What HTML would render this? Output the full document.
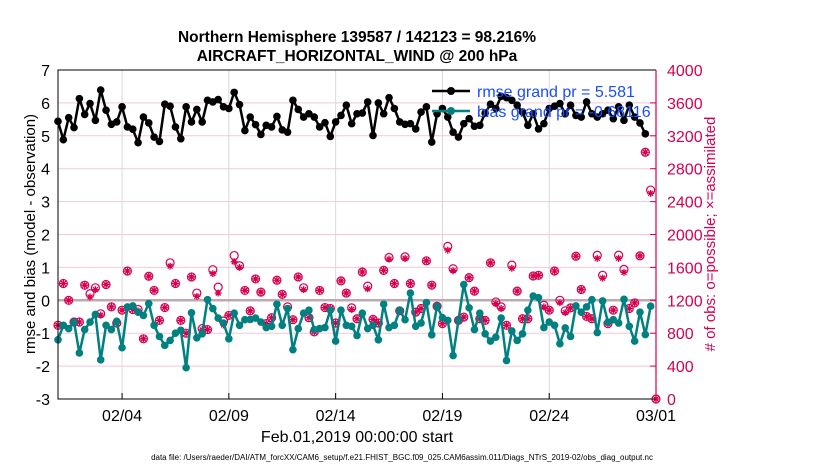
<!DOCTYPE html>
<html><head><meta charset="utf-8"><style>
body{margin:0;background:#fff;}
svg{font-family:"Liberation Sans",sans-serif;}
</style></head><body>
<svg id="chart" width="830" height="470" viewBox="0 0 830 470" xmlns="http://www.w3.org/2000/svg">
<rect width="830" height="470" fill="#fff"/>
<text x="357" y="42" text-anchor="middle" font-size="15.5" font-weight="bold">Northern Hemisphere 139587 / 142123 = 98.216%</text>
<text x="357" y="61" text-anchor="middle" font-size="15.5" font-weight="bold">AIRCRAFT_HORIZONTAL_WIND @ 200 hPa</text>
<g id="grid"></g>
<g id="marks"></g>
<g id="axes"></g>
<text x="357" y="442" text-anchor="middle" font-size="16">Feb.01,2019 00:00:00 start</text>
<text transform="translate(35,234) rotate(-90)" text-anchor="middle" font-size="15">rmse and bias (model - observation)</text>
<text transform="translate(715,234) rotate(-90)" text-anchor="middle" font-size="15" fill="#d6004f"># of obs: o=possible; ×=assimilated</text>
<text x="402" y="460" text-anchor="middle" font-size="8">data file: /Users/raeder/DAI/ATM_forcXX/CAM6_setup/f.e21.FHIST_BGC.f09_025.CAM6assim.011/Diags_NTrS_2019-02/obs_diag_output.nc</text>
<g>
<line x1="432" y1="91" x2="470" y2="91" stroke="#000" stroke-width="2.5"/>
<circle cx="451" cy="91" r="4" fill="#000"/>
<text x="477" y="97" font-size="16" fill="#1a4dff">rmse grand pr = 5.581</text>
<line x1="432" y1="111" x2="470" y2="111" stroke="#008080" stroke-width="2.5"/>
<circle cx="451" cy="111" r="4" fill="#008080"/>
<text x="477" y="117" font-size="16" fill="#1a4dff">bias grand pr = -0.68116</text>
</g>
</svg>
<script>
const rmse=[5.44,4.88,5.55,5.25,6.13,5.65,5.98,5.47,6.39,5.78,5.35,5.42,5.88,5.27,5.2,4.79,5.57,5.39,4.96,4.83,5.96,5.9,5.27,4.91,5.88,5.42,5.8,5.42,6.08,6.03,6.1,5.88,5.83,6.32,5.95,5.16,5.57,5.34,5.04,5.32,5.27,5.59,5.18,5.11,6.08,5.8,5.57,5.67,5.57,5.27,5.4,4.98,5.42,5.62,
5.93,5.37,5.67,5.69,6.03,5.01,6.0,5.67,6.16,5.83,5.42,5.35,5.37,5.21,5.72,5.88,4.81,5.67,5.83,5.57,5.11,4.96,5.37,5.52,5.29,5.32,5.69,5.96,5.83,6.2,6.16,6.08,5.93,5.72,5.32,5.67,5.21,5.37,5.83,5.9,5.98,5.67,5.93,5.62,5.57,6.03,5.67,5.57,5.67,5.78,5.52,5.88,5.47,5.93,5.57,5.39,5.06];
const bias=[-1.2,-0.76,-0.86,-0.66,-1.6,-0.89,-0.66,-0.43,-1.81,-0.76,-0.89,-0.64,-1.44,-0.2,-0.17,-0.36,-0.46,-0.1,-0.76,-1.1,-1.37,-1.22,-1.0,-0.91,-2.05,-0.38,-1.14,-1.02,0.02,-0.25,-0.54,-0.69,-1.17,-0.39,-0.76,-0.59,-0.58,-0.54,-0.66,-0.83,-0.79,-0.12,-0.76,-0.25,-1.5,-0.86,-0.39,-0.3,-0.89,-0.86,-0.83,-0.3,-1.24,-0.3,-0.76,-0.79,-1.07,
-0.39,-0.86,-0.76,-1.2,-0.12,-0.83,-0.76,-0.3,-0.59,0.22,-0.79,-0.69,-0.07,-1.05,-0.18,-0.53,-0.61,-1.68,-0.61,0.48,-0.23,-0.89,-0.39,-1.02,-1.24,-1.12,-0.54,-1.83,-0.93,-1.22,-1.02,-0.3,0.13,0.08,-0.83,-0.66,-0.76,-1.32,-0.84,-1.1,-0.17,-0.36,-0.2,0.02,-0.98,-0.02,-0.66,-0.59,-0.69,0.03,-0.79,-1.24,-0.36,-1.04,-0.18];
const possible=[896,1404,1200,936,936,1384,1280,1352,1036,1392,1120,924,1080,1556,1088,1088,732,1492,1320,956,1112,1656,1404,956,800,1484,1288,856,844,1572,1360,948,1016,1744,1620,1320,1072,1460,1300,916,988,1444,1272,1120,964,1484,1352,988,816,1320,1112,1100,924,1436,1288,1108,976,
1544,1372,968,924,1564,1720,1404,1072,1728,1404,1056,1100,1680,1384,1128,916,1856,1584,956,996,1476,1312,976,956,1656,1180,1120,896,1628,1312,976,976,1496,1504,1140,1080,1556,1200,1072,1108,1736,1332,1004,976,1748,1504,916,1080,1748,1576,1100,1168,1740,3000,2540,0];
const assimilated=[896,1404,1200,936,936,1384,1240,1330,1020,1392,1120,924,1080,1556,1088,1070,732,1492,1320,956,1112,1616,1404,956,800,1484,1248,840,844,1524,1288,900,1016,1668,1600,1320,1072,1460,1300,916,988,1444,1272,1100,964,1484,1330,988,816,1320,1112,1100,924,1436,1288,1090,976,
1544,1340,968,924,1564,1700,1404,1072,1710,1404,1056,1100,1680,1384,1110,916,1810,1560,956,996,1476,1312,976,956,1656,1160,1100,896,1590,1312,976,976,1496,1504,1120,1080,1556,1170,1050,1108,1736,1332,1004,976,1710,1470,916,1080,1710,1540,1100,1168,1740,3000,2500,0];
const xTickLabels=["02/04","02/09","02/14","02/19","02/24","03/01"];
const xTickDays=[3,8,13,18,23,28];
const leftTicks=[-3,-2,-1,0,1,2,3,4,5,6,7];
const rightTicks=[0,400,800,1200,1600,2000,2400,2800,3200,3600,4000];

const L=58,R=656,T=70,B=399;
const NS="http://www.w3.org/2000/svg";
const xs=d=>L+(R-L)*d/28;
const yl=v=>B-(B-T)*(v+3)/10;
const yr=c=>B-(B-T)*c/4000;
function mk(tag,attrs,parent){const e=document.createElementNS(NS,tag);for(const k in attrs)e.setAttribute(k,attrs[k]);parent.appendChild(e);return e;}
const grid=document.getElementById('grid'),marks=document.getElementById('marks'),axes=document.getElementById('axes');

xTickDays.forEach((d,i)=>{
 const g=mk('line',{x1:xs(d),x2:xs(d),y1:T,y2:B,stroke:'#d8d8d8','stroke-width':1},grid);
 
 
 const t=mk('line',{x1:xs(d),x2:xs(d),y1:B,y2:B-6,stroke:'#000'},axes);
 
 
 const l=mk('text',{x:xs(d),y:B+22,'text-anchor':'middle','font-size':16},axes);
 l.textContent=xTickLabels[i];
 
 
});
leftTicks.forEach(v=>{
 if(v>-3&&v<7&&v!==0){
  const g=mk('line',{x1:L,x2:R,y1:yl(v),y2:yl(v),stroke:'#f2c8d8','stroke-width':1},grid);
  
  
 }
 const l=mk('text',{x:L-8,y:yl(v)+6,'text-anchor':'end','font-size':16},axes);
 l.textContent=v;
 
 
});
const z=mk('line',{x1:L,x2:R,y1:yl(0),y2:yl(0),stroke:'#c0a8b0','stroke-width':2.5},grid);


rightTicks.forEach(c=>{
 const t=mk('line',{x1:R,x2:R-6,y1:yr(c),y2:yr(c),stroke:'#d6004f'},axes);
 
 
 const l=mk('text',{x:R+11,y:yr(c)+6,'font-size':16,fill:'#d6004f'},axes);
 l.textContent=c;
 
 
});
const frame=mk('path',{d:`M${R},${T}H${L}V${B}H${R}`,fill:'none',stroke:'#000','stroke-width':1},axes);


const ra=mk('line',{x1:R,x2:R,y1:T,y2:B,stroke:'#d6004f','stroke-width':1.2},axes);



possible.forEach((c,i)=>{
 const x=xs(i*0.25);
 const o=mk('circle',{cx:x,cy:yr(c),r:4,fill:'none',stroke:'#d6004f','stroke-width':1.2},marks);
 
 
});
assimilated.forEach((c,i)=>{
 const x=xs(i*0.25),y=yr(c),s=3.5;
 const a=mk('path',{d:`M${x-s},${y}H${x+s}M${x},${y-s}V${y+s}M${x-s*.7},${y-s*.7}L${x+s*.7},${y+s*.7}M${x-s*.7},${y+s*.7}L${x+s*.7},${y-s*.7}`,stroke:'#d6004f','stroke-width':1.3},marks);
 
 
});
function series(arr,color,name){
 const pts=arr.map((v,i)=>xs(i*0.25)+','+yl(v)).join(' ');
 const p=mk('polyline',{points:pts,fill:'none',stroke:color,'stroke-width':2.5,'stroke-linejoin':'round'},marks);
 
 
 arr.forEach((v,i)=>{
  const c=mk('circle',{cx:xs(i*0.25),cy:yl(v),r:3.8,fill:color},marks);
  
  
 });
}
series(bias,'#008080','bias');
series(rmse,'#000','rmse');
</script>
</body></html>
